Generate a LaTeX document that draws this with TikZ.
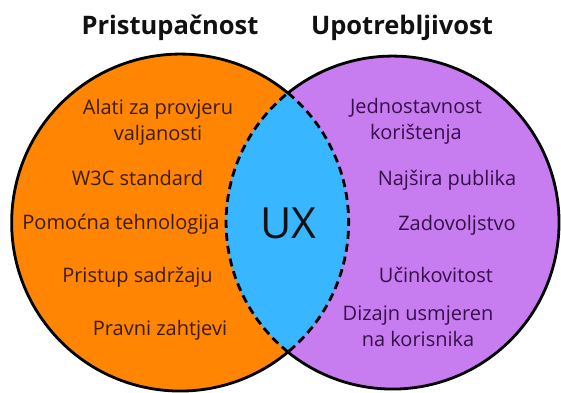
\documentclass[tikz,border=0pt]{standalone}
\usepackage{fontspec}
\setmainfont{Open Sans}
\usepackage{xcolor}
\definecolor{orangefill}{HTML}{FF8502}
\definecolor{lilacfill}{HTML}{C77CEF}
\definecolor{skyfill}{HTML}{38B6FF}
\definecolor{orangeink}{HTML}{3A1B00}
\definecolor{lilacink}{HTML}{36104A}
\definecolor{headink}{HTML}{111111}
\usepackage{tikz}
\usetikzlibrary{positioning}

\begin{document}
\begin{tikzpicture}[x=1bp, y=-1bp,
  ring/.style={black, line width=2.8bp},
  lens/.style={black, line width=2.8bp, dash pattern=on 8bp off 5bp},
  item/.style={inner sep=0pt, anchor=base, align=center,
    font=\fontsize{20bp}{25.5bp}\selectfont},
  heading/.style={inner sep=0pt, anchor=base, headink,
    font=\fontsize{25.5bp}{30bp}\selectfont\bfseries}]
  \useasboundingbox (0,0) rectangle (561,392);

  % circles and overlap
  \fill[orangefill] (180,222.5) circle (168.5);
  \fill[lilacfill] (392.5,222.5) circle (166.5);
  \begin{scope}
    \clip (180,222.5) circle (168.5);
    \fill[skyfill] (392.5,222.5) circle (166.5);
  \end{scope}
  \coordinate (top) at (288,93);
  \coordinate (bot) at (288,352);
  \draw[ring] (bot) arc[start angle=50.2, end angle=309.8, radius=168.5];
  \draw[ring] (top) arc[start angle=231.1, end angle=488.9, radius=166.5];
  \draw[lens] (top) arc[start angle=-50.2, end angle=50.2, radius=168.5];
  \draw[lens] (bot) arc[start angle=128.9, end angle=231.1, radius=166.5];

  % headings
  \node[heading] (access) at (170,34) {Pristupačnost};
  \node[heading] (usable) at (402,34) {Upotrebljivost};

  % left set (base = last line)
  \node[item, orangeink] (tools) at (158,140) {Alati za provjeru\\valjanosti};
  \node[item, orangeink] (wthree) at (137.5,185) {W3C standard};
  \node[item, orangeink] (assist) at (121,229) {Pomoćna tehnologija};
  \node[item, orangeink] (content) at (137.5,282) {Pristup sadržaju};
  \node[item, orangeink] (legal) at (160,335) {Pravni zahtjevi};

  % right set
  \node[item, lilacink] (simple) at (416,139) {Jednostavnost\\korištenja};
  \node[item, lilacink] (wide) at (447,185) {Najšira publika};
  \node[item, lilacink] (satisf) at (457,230) {Zadovoljstvo};
  \node[item, lilacink] (effect) at (436,282) {Učinkovitost};
  \node[item, lilacink] (design) at (418,346) {Dizajn usmjeren\\na korisnika};

  \node[inner sep=0pt, anchor=base, headink,
    font=\fontsize{43bp}{48bp}\selectfont] (ux) at (288.5,238) {UX};
\end{tikzpicture}
\end{document}
